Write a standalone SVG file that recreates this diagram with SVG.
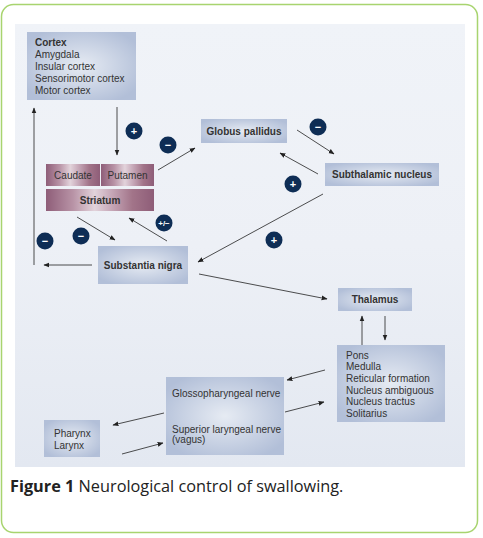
<svg xmlns="http://www.w3.org/2000/svg" width="483" height="538" viewBox="0 0 483 538">
<defs>
<radialGradient id="bx" cx="50%" cy="50%" r="60%">
<stop offset="0" stop-color="#e6ebf3"/>
<stop offset="1" stop-color="#b2bfd8"/>
</radialGradient>
<linearGradient id="st" x1="0" y1="0" x2="1" y2="0">
<stop offset="0" stop-color="#8e5d78"/>
<stop offset="0.25" stop-color="#b893a6"/>
<stop offset="0.45" stop-color="#e2d3db"/>
<stop offset="0.6" stop-color="#c7a9b9"/>
<stop offset="0.8" stop-color="#a27489"/>
<stop offset="1" stop-color="#8e5d78"/>
</linearGradient>
<linearGradient id="bg" x1="0" y1="0" x2="0" y2="1">
<stop offset="0" stop-color="#f0f3f8"/>
<stop offset="0.5" stop-color="#edf0f6"/>
<stop offset="1" stop-color="#e3e8f1"/>
</linearGradient>
<marker id="ah" viewBox="0 0 10 10" refX="9" refY="5" markerWidth="6" markerHeight="6" orient="auto" markerUnits="userSpaceOnUse">
<path d="M0,1 L10,5 L0,9 z" fill="#222"/>
</marker>
<style>
.t{font-family:"Liberation Sans",Arial,sans-serif;font-size:10px;fill:#333}
.b{font-weight:bold}
.c{text-anchor:middle}
.box{fill:url(#bx)}
.sb{fill:url(#st)}
.ln{stroke:#222;stroke-width:0.8;fill:none;marker-end:url(#ah)}
.sg{fill:#0e2d55}
.sy{font-family:"Liberation Sans",Arial,sans-serif;font-size:11px;font-weight:bold;fill:#fff;text-anchor:middle}
</style>
</defs>
<rect x="1.5" y="4.5" width="476" height="528" rx="12" fill="#fff" stroke="#a8d46f" stroke-width="1.5"/>
<rect x="15" y="24" width="450" height="443" fill="url(#bg)"/>

<g id="cortex">
<rect x="27" y="32" width="109" height="68" class="box"/>
<text class="t b" x="35" y="46">Cortex</text>
<text class="t" x="35" y="58">Amygdala</text>
<text class="t" x="35" y="70">Insular cortex</text>
<text class="t" x="35" y="82">Sensorimotor cortex</text>
<text class="t" x="35" y="94">Motor cortex</text>
</g>
<g id="striatum">
<rect x="46" y="164" width="54" height="22" class="sb"/>
<rect x="101" y="164" width="53" height="22" class="sb"/>
<rect x="46" y="189" width="108" height="22" class="sb"/>
<text class="t c" x="73" y="178.5">Caudate</text>
<text class="t c" x="127.5" y="178.5">Putamen</text>
<text class="t b c" x="100" y="203.5">Striatum</text>
</g>
<g id="globus">
<rect x="201" y="119" width="86" height="24" class="box"/>
<text class="t b c" x="244" y="134.5">Globus pallidus</text>
</g>
<g id="stn">
<rect x="325" y="163" width="114" height="23" class="box"/>
<text class="t b c" x="382" y="178">Subthalamic nucleus</text>
</g>
<g id="sn">
<rect x="98" y="246" width="90" height="38" class="box"/>
<text class="t b c" x="143" y="268.5">Substantia nigra</text>
</g>
<g id="thalamus">
<rect x="338" y="288" width="74" height="23" class="box"/>
<text class="t b c" x="375" y="303">Thalamus</text>
</g>
<g id="pons">
<rect x="337" y="345" width="108" height="77" class="box"/>
<text class="t" x="346" y="358.5">Pons</text>
<text class="t" x="346" y="370">Medulla</text>
<text class="t" x="346" y="382">Reticular formation</text>
<text class="t" x="346" y="393.5">Nucleus ambiguous</text>
<text class="t" x="346" y="405">Nucleus tractus</text>
<text class="t" x="346" y="417">Solitarius</text>
</g>
<g id="nerves">
<rect x="166" y="377" width="118" height="78" class="box"/>
<text class="t" x="172" y="396.5">Glossopharyngeal nerve</text>
<text class="t" x="172" y="432.5">Superior laryngeal nerve</text>
<text class="t" x="172" y="443">(vagus)</text>
</g>
<g id="pharynx">
<rect x="44" y="420" width="56" height="37" class="box"/>
<text class="t" x="54" y="437">Pharynx</text>
<text class="t" x="54" y="449">Larynx</text>
</g>

<g id="connectors">
<line class="ln" x1="117" y1="107" x2="117" y2="155"/>
<line class="ln" x1="158" y1="170" x2="195" y2="148"/>
<line class="ln" x1="297" y1="130" x2="334" y2="154"/>
<line class="ln" x1="318" y1="174" x2="280" y2="153"/>
<line class="ln" x1="77" y1="217" x2="115" y2="240"/>
<line class="ln" x1="167" y1="241" x2="129" y2="218"/>
<line class="ln" x1="92" y1="265" x2="44" y2="265"/>
<polyline class="ln" points="34,265 34,108"/>
<line class="ln" x1="323" y1="194" x2="198" y2="262"/>
<line class="ln" x1="199" y1="274" x2="327" y2="299"/>
<line class="ln" x1="362" y1="345" x2="362" y2="316"/>
<line class="ln" x1="385" y1="316" x2="385" y2="340"/>
<line class="ln" x1="325" y1="370" x2="287" y2="380"/>
<line class="ln" x1="285" y1="412" x2="324" y2="402"/>
<line class="ln" x1="164" y1="413" x2="113" y2="425"/>
<line class="ln" x1="122" y1="454" x2="163" y2="443"/>
</g>

<g id="signs">
<circle class="sg" cx="134" cy="131" r="8.5"/><text class="sy" x="134" y="135">+</text>
<circle class="sg" cx="168" cy="145" r="8.5"/><text class="sy" x="168" y="149">−</text>
<circle class="sg" cx="318" cy="127" r="8.5"/><text class="sy" x="318" y="131">−</text>
<circle class="sg" cx="293" cy="184" r="8.5"/><text class="sy" x="293" y="188">+</text>
<circle class="sg" cx="164" cy="223" r="8.5"/><text class="sy" x="164" y="226" style="font-size:8px">+/−</text>
<circle class="sg" cx="81" cy="236" r="8.5"/><text class="sy" x="81" y="240">−</text>
<circle class="sg" cx="45" cy="241" r="8.5"/><text class="sy" x="45" y="245">−</text>
<circle class="sg" cx="274" cy="240" r="8.5"/><text class="sy" x="274" y="244">+</text>
</g>

<text x="10" y="492" style="font-family:'Open Sans',sans-serif;font-size:16.3px;fill:#222"><tspan font-weight="bold">Figure 1</tspan> Neurological control of swallowing.</text>
</svg>
